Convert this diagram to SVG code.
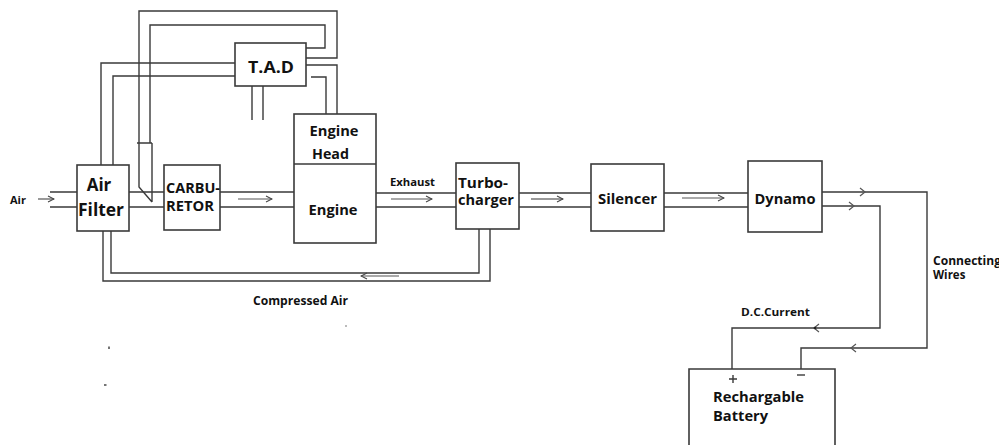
<svg xmlns="http://www.w3.org/2000/svg" width="999" height="445" viewBox="0 0 999 445">
<style>
.bx{fill:#fff;stroke:#3a3a3a;stroke-width:1.6}
.ln{fill:none;stroke:#3a3a3a;stroke-width:1.4}
.ar{fill:none;stroke:#555;stroke-width:1.2}
.t{font-family:"Open Sans","Liberation Sans",sans-serif;font-weight:700;fill:#111}
</style>
<defs>
<marker id="arr" viewBox="0 0 8 8" refX="7" refY="4" markerWidth="8" markerHeight="8" markerUnits="userSpaceOnUse" orient="auto">
<path d="M1,1 L7,4 L1,7" fill="none" stroke="#444" stroke-width="1.1"/>
</marker>
</defs>
<rect width="999" height="445" fill="#fff"/>
<g id="connectors">
<!-- top loops from carburetor valve to TAD -->
<path class="ln" d="M139,143 L139,11 L337,11 L337,58 L306,58"/>
<path class="ln" d="M150,143 L150,25 L325,25 L325,48 L306,48"/>
<!-- valve stub -->
<path class="ln" d="M137,143 L152,143 M139,143 L139,187 L152,202 M152,143 L152,202"/>
<!-- air filter to TAD -->
<path class="ln" d="M101,165 L101,63 L235,63"/>
<path class="ln" d="M113,165 L113,76 L235,76"/>
<!-- TAD to engine head -->
<path class="ln" d="M306,65 L337,65 L337,114"/>
<path class="ln" d="M311,77 L326,77 L326,114"/>
<!-- TAD bottom stubs -->
<path class="ln" d="M252,86 L252,120 M263,86 L263,120"/>
<!-- air in -->
<path class="ln" d="M50,192 L77,192 M50,207 L77,207"/>
<path class="ar" d="M38,199 L54,199" marker-end="url(#arr)"/>
<!-- air filter to carburetor -->
<path class="ln" d="M129,192 L164,192 M129,207 L164,207"/>
<!-- carburetor to engine -->
<path class="ln" d="M220,192 L294,192 M220,207 L294,207"/>
<path class="ar" d="M238,199 L272,199" marker-end="url(#arr)"/>
<!-- engine to turbo -->
<path class="ln" d="M376,193 L456,193 M376,207 L456,207"/>
<path class="ar" d="M391,199 L432,199" marker-end="url(#arr)"/>
<!-- compressed air return -->
<path class="ln" d="M479,229 L479,273 L111,273 L111,231"/>
<path class="ln" d="M490,229 L490,281 L103,281 L103,231"/>
<path class="ar" d="M399,276 L361,276" marker-end="url(#arr)"/>
<!-- turbo to silencer -->
<path class="ln" d="M519,193 L591,193 M519,207 L591,207"/>
<path class="ar" d="M531,199 L563,199" marker-end="url(#arr)"/>
<!-- silencer to dynamo -->
<path class="ln" d="M664,193 L748,193 M664,207 L748,207"/>
<path class="ar" d="M682,198 L724,198" marker-end="url(#arr)"/>
<!-- dynamo to battery wires -->
<path class="ln" d="M822,192 L927,192 L927,348 L801,348 L801,369"/>
<path class="ln" d="M822,206 L880,206 L880,328 L732,328 L732,369"/>
<path class="ar" d="M860,188 L865,192 L860,196"/>
<path class="ar" d="M849,202 L854,206 L849,210"/>
<path class="ar" d="M856,344 L851,348 L856,352"/>
<path class="ar" d="M819,324 L814,328 L819,332"/>
<circle cx="815" cy="328" r="1.3" fill="#222"/>
<!-- stray marks -->
<circle cx="346" cy="326" r="0.7" fill="#444"/>
<path class="ln" d="M109,346.5 L109,349"/>
<path class="ln" d="M104,385 L106.5,385"/>
</g>
<g id="air-label"><text class="t" x="10" y="204" font-size="11">Air</text></g>
<g id="air-filter">
<rect class="bx" x="77" y="165" width="52" height="66"/>
<text class="t" x="99" y="191" font-size="17" text-anchor="middle">Air</text>
<text class="t" x="101" y="216" font-size="17" text-anchor="middle" textLength="46" lengthAdjust="spacingAndGlyphs">Filter</text>
</g>
<g id="carburetor">
<rect class="bx" x="164" y="165" width="56" height="65"/>
<text class="t" x="166" y="192.5" font-size="13.5" textLength="54" lengthAdjust="spacingAndGlyphs">CARBU-</text>
<text class="t" x="166" y="210.5" font-size="13.5" textLength="48" lengthAdjust="spacingAndGlyphs">RETOR</text>
</g>
<g id="tad">
<rect class="bx" x="235" y="43" width="71" height="43"/>
<text class="t" x="271" y="73" font-size="16.5" text-anchor="middle" textLength="46" lengthAdjust="spacingAndGlyphs">T.A.D</text>
</g>
<g id="engine">
<rect class="bx" x="294" y="114" width="82" height="129"/>
<line class="ln" x1="294" y1="164" x2="376" y2="164"/>
<text class="t" x="334" y="136" font-size="14" text-anchor="middle" textLength="49" lengthAdjust="spacingAndGlyphs">Engine</text>
<text class="t" x="330.5" y="159" font-size="14" text-anchor="middle" textLength="37" lengthAdjust="spacingAndGlyphs">Head</text>
<text class="t" x="333" y="214.5" font-size="14" text-anchor="middle" textLength="49" lengthAdjust="spacingAndGlyphs">Engine</text>
</g>
<g id="exhaust-label"><text class="t" x="390" y="186" font-size="11" textLength="45" lengthAdjust="spacingAndGlyphs">Exhaust</text></g>
<g id="turbocharger">
<rect class="bx" x="456" y="163" width="63" height="66"/>
<text class="t" x="458" y="187.5" font-size="14" textLength="50" lengthAdjust="spacingAndGlyphs">Turbo-</text>
<text class="t" x="458" y="205" font-size="14" textLength="56" lengthAdjust="spacingAndGlyphs">charger</text>
</g>
<g id="compressed-label"><text class="t" x="253" y="305" font-size="12" textLength="95" lengthAdjust="spacingAndGlyphs">Compressed Air</text></g>
<g id="silencer">
<rect class="bx" x="591" y="164" width="73" height="67"/>
<text class="t" x="598" y="203.5" font-size="13.5" textLength="59" lengthAdjust="spacingAndGlyphs">Silencer</text>
</g>
<g id="dynamo">
<rect class="bx" x="748" y="161" width="74" height="71"/>
<text class="t" x="754.5" y="203.5" font-size="14" textLength="61" lengthAdjust="spacingAndGlyphs">Dynamo</text>
</g>
<g id="wires-label">
<text class="t" x="933" y="264.5" font-size="11.5" textLength="68" lengthAdjust="spacingAndGlyphs">Connecting</text>
<text class="t" x="933" y="278.5" font-size="11.5">Wires</text>
</g>
<g id="dc-label"><text class="t" x="741" y="316" font-size="11" textLength="69" lengthAdjust="spacingAndGlyphs">D.C.Current</text></g>
<g id="battery">
<path class="bx" d="M689,446 L689,369 L835,369 L835,446"/>
<path class="ln" d="M733,375 L733,383 M729,379 L737,379"/>
<path class="ln" d="M797,375 L805,375"/>
<text class="t" x="713" y="402" font-size="14" textLength="91" lengthAdjust="spacingAndGlyphs">Rechargable</text>
<text class="t" x="713" y="420.5" font-size="14" textLength="55" lengthAdjust="spacingAndGlyphs">Battery</text>
</g>
</svg>
